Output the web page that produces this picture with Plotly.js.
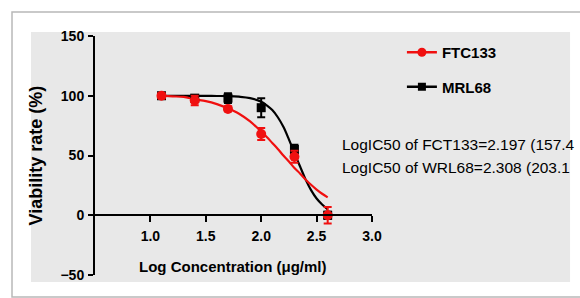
<!DOCTYPE html>
<html>
<head>
<meta charset="utf-8">
<script src="https://cdn.plot.ly/plotly-3.0.1.min.js"></script>
<style>html,body{margin:0;padding:0;background:#fff;}#chart{width:580px;height:298px;}</style>
</head>
<body>
<div id="chart"></div>
<script>
// Measured data points (log concentration, viability %)
var logConc = [1.1, 1.4, 1.7, 2.0, 2.3, 2.6];
var ftc133 = [100, 96, 89, 68, 49, 0];
var ftc133Err = [2, 4, 2, 5, 5, 7];
var mrl68 = [100, 98, 98, 90, 55, 0];
var mrl68Err = [2, 2, 4, 8, 4, 3];

// Fitted curves
var fitX = [1.1, 1.2, 1.3, 1.4, 1.5, 1.6, 1.7, 1.8, 1.9, 2.0, 2.05, 2.1, 2.15, 2.2, 2.25, 2.3, 2.35, 2.4, 2.45, 2.5, 2.55, 2.6];
var fitFtc = [100, 99.5, 99, 97, 95.5, 93, 89.5, 85, 78.5, 70, 65.5, 60.5, 55.5, 50, 45, 39.5, 35, 30, 25.5, 21.5, 18, 15];
var fitMrl = [100, 100, 100, 99.9, 99.9, 99.8, 99.7, 99.2, 98, 95, 92, 88, 82, 74, 63.5, 52, 41, 30, 21, 14, 9, 5];

var xTicks = [1.0, 1.5, 2.0, 2.5, 3.0];
var yTicks = [-50, 0, 50, 100, 150];
var names = ['FTC133', 'MRL68'];
var notes = ['LogIC50 of FCT133=2.197 (157.4', 'LogIC50 of WRL68=2.308 (203.1'];

var RED = '#f01010', BLK = '#000000';
var FONT = 'Liberation Sans, Arial, sans-serif';

var traces = [
  {x: fitX, y: fitMrl, mode: 'lines', line: {color: BLK, width: 2.2, shape: 'spline'}, showlegend: false, hoverinfo: 'skip'},
  {x: fitX, y: fitFtc, mode: 'lines', line: {color: RED, width: 2.2, shape: 'spline'}, showlegend: false, hoverinfo: 'skip'},
  {x: logConc, y: mrl68, mode: 'markers', marker: {symbol: 'square', size: 9, color: BLK},
   error_y: {type: 'data', array: mrl68Err, color: BLK, thickness: 2, width: 4}, showlegend: false, cliponaxis: false},
  {x: logConc, y: ftc133, mode: 'markers', marker: {symbol: 'circle', size: 10, color: RED},
   error_y: {type: 'data', array: ftc133Err, color: RED, thickness: 2, width: 4}, showlegend: false, cliponaxis: false},
  {x: [null], y: [null], name: names[0], mode: 'lines+markers', line: {color: RED, width: 2.5},
   marker: {symbol: 'circle', size: 9, color: RED}, legendgroup: 'a', legendrank: 1},
  {x: [null], y: [null], name: names[1], mode: 'lines+markers', line: {color: BLK, width: 2.5},
   marker: {symbol: 'square', size: 8, color: BLK}, legendgroup: 'b', legendrank: 2}
];

var layout = {
  width: 580, height: 298,
  margin: {l: 95, r: 208, t: 36, b: 23},
  paper_bgcolor: '#ffffff',
  plot_bgcolor: 'rgba(0,0,0,0)',
  font: {family: FONT, color: '#000'},
  xaxis: {
    range: [0.5, 3.0], anchor: 'free', position: 0.25,
    showline: true, linecolor: '#000', linewidth: 2,
    showgrid: false, zeroline: false,
    tickmode: 'array', tickvals: xTicks, tickformat: '.1f',
    ticks: 'outside', ticklen: 6, tickwidth: 2, tickcolor: '#000',
    ticklabelstandoff: 2,
    tickfont: {family: FONT, size: 14, weight: 'bold', color: '#000'}
  },
  yaxis: {
    range: [-50, 150],
    showline: true, linecolor: '#000', linewidth: 2,
    showgrid: false, zeroline: false,
    tickmode: 'array', tickvals: yTicks,
    ticks: 'outside', ticklen: 5, tickwidth: 2, tickcolor: '#000',
    ticklabelstandoff: 1,
    tickfont: {family: FONT, size: 14, weight: 'bold', color: '#000'}
  },
  showlegend: true,
  legend: {
    x: 1.108, xanchor: 'left', y: 1.0, yanchor: 'top',
    bgcolor: 'rgba(0,0,0,0)', tracegroupgap: 12, traceorder: 'grouped',
    font: {family: FONT, size: 15, weight: 'bold', color: '#000'}
  },
  shapes: [
    {type: 'rect', xref: 'paper', yref: 'paper', x0: -0.2996, x1: 1.9, y0: -0.092, y1: 1.1004,
     line: {color: '#b8b8b8', width: 1.5}, fillcolor: '#ffffff', layer: 'below'},
    {type: 'rect', xref: 'paper', yref: 'paper', x0: -0.231, x1: 1.715, y0: -0.029, y1: 1.0167,
     line: {width: 0}, fillcolor: '#e8e8e8', layer: 'below'}
  ],
  annotations: [
    {xref: 'paper', yref: 'paper', x: 0.8845, y: 0.544, xanchor: 'left', yanchor: 'middle', showarrow: false,
     text: notes[0], font: {family: FONT, size: 15.5, color: '#000'}},
    {xref: 'paper', yref: 'paper', x: 0.8845, y: 0.448, xanchor: 'left', yanchor: 'middle', showarrow: false,
     text: notes[1], font: {family: FONT, size: 15.5, color: '#000'}},
    {xref: 'paper', yref: 'paper', x: 0.498, y: 0.0335, xanchor: 'center', yanchor: 'middle', showarrow: false,
     text: 'Log Concentration (\u03bcg/ml)', font: {family: FONT, size: 15, weight: 'bold', color: '#000'}},
    {xref: 'paper', yref: 'paper', x: -0.2166, y: 0.5, xanchor: 'center', yanchor: 'middle', showarrow: false,
     textangle: -90, text: 'Viability rate (%)', font: {family: FONT, size: 18, weight: 'bold', color: '#000'}}
  ]
};

Plotly.newPlot('chart', traces, layout, {displayModeBar: false, staticPlot: true});
</script>
</body>
</html>
